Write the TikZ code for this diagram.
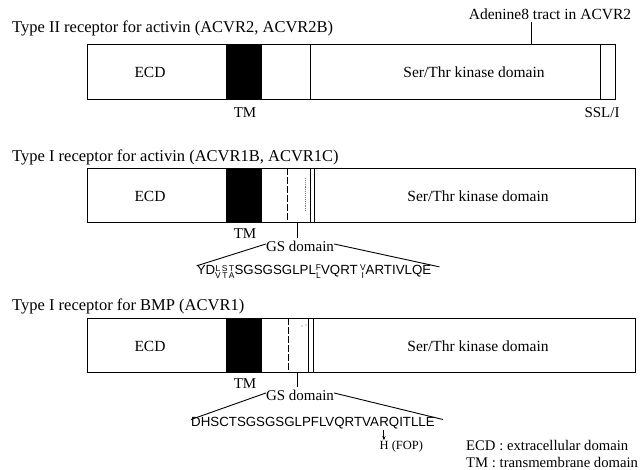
\documentclass[tikz,border=0pt]{standalone}
\usepackage{fontspec}
\usetikzlibrary{arrows.meta}
\setmainfont{Liberation Serif}
\newfontfamily\seqfont{Liberation Sans}
\newcommand\seqstk[2]{{\fontsize{8.5}{8}\selectfont\renewcommand\arraystretch{0.85}\setlength\tabcolsep{0pt}\begin{tabular}[c]{c}#1\\#2\end{tabular}}}
\begin{document}
\begin{tikzpicture}[x=1pt,y=-1pt,
  title/.style={anchor=west,inner sep=0pt,font=\fontsize{16.5}{17}\selectfont},
  boxlab/.style={inner sep=0pt,font=\fontsize{15.5}{16}\selectfont},
  small/.style={inner sep=0pt,font=\fontsize{15}{15}\selectfont},
  legend/.style={inner sep=0pt,anchor=west,font=\fontsize{14.7}{15}\selectfont},
  seq/.style={inner sep=0pt,font=\seqfont\fontsize{13.3}{13}\selectfont},
  frame/.style={draw,line width=1.4pt},
  thin/.style={line width=0.9pt}]
\useasboundingbox (0,0) rectangle (643,470);
\fill[white] (0,0) rectangle (643,470);

% ---------- Type II ----------
\node[title] (t1) at (12,28) {Type II receptor for activin (ACVR2, ACVR2B)};
\node[frame,minimum width=528pt,minimum height=55pt,anchor=north west,inner sep=0pt] (b1) at (87,44) {};
\fill (226,44) rectangle (262,99);
\draw[thin] (310,44) -- (310,99);
\draw[thin] (600,44) -- (600,99);
\node[boxlab] (e1) at (150,72) {ECD};
\node[boxlab] (k1) at (474,72) {Ser/Thr kinase domain};
\node[small] (tm1) at (245,113) {TM};
\node[small] (ssl) at (602,113) {SSL/I};
\node[small,font=\fontsize{15.5}{15}\selectfont] (ade) at (550,14) {Adenine8 tract in ACVR2};
\coordinate (adeb) at (531,44);
\draw[thin] (531,22) -- (adeb);

% ---------- Type I activin ----------
\node[title] (t2) at (12,157) {Type I receptor for activin (ACVR1B, ACVR1C)};
\node[frame,minimum width=548pt,minimum height=54pt,anchor=north west,inner sep=0pt] (b2) at (87,168) {};
\fill (226,168) rectangle (262,222);
\draw[thin,dash pattern=on 7pt off 2pt] (287,168) -- (287,222);
\draw[thin,densely dotted,gray] (305,178) -- (305,212);
\draw[thin] (310,168) -- (310,222);
\draw[thin] (314,168) -- (314,222);
\node[boxlab] (e2) at (150,196) {ECD};
\node[boxlab] (k2) at (478,196) {Ser/Thr kinase domain};
\node[small] (tm2) at (245,234) {TM};
\coordinate (gs2t) at (297,222);
\node[small] (gs2) at (300,246) {GS domain};
\draw[thin] (gs2t) -- (297,238);
\node[seq] (s2) at (314,273) {YD\seqstk{L\,S\,T}{V\,T\,A}SGSGSGLPL\seqstk{F}{L}VQRT\,\seqstk{V}{I}ARTIVLQE};
\draw[thin] ([yshift=2pt]gs2.west) -- ([yshift=-1pt]s2.north west);
\draw[thin] ([yshift=2pt]gs2.east) -- ([xshift=8pt,yshift=-2pt]s2.north east);

% ---------- Type I BMP ----------
\node[title] (t3) at (12,306) {Type I receptor for BMP (ACVR1)};
\node[frame,minimum width=548pt,minimum height=54pt,anchor=north west,inner sep=0pt] (b3) at (87,318) {};
\fill (226,318) rectangle (262,372);
\draw[thin,dash pattern=on 7pt off 2pt] (288,318) -- (288,372);
\fill[gray] (302,326) circle (0.7pt) (306,325) circle (0.7pt);
\draw[thin] (308,318) -- (308,372);
\draw[thin] (313,318) -- (313,372);
\node[boxlab] (e3) at (150,346) {ECD};
\node[boxlab] (k3) at (478,346) {Ser/Thr kinase domain};
\node[small] (tm3) at (245,384) {TM};
\coordinate (gs3t) at (297,372);
\node[small] (gs3) at (300,395) {GS domain};
\draw[thin] (gs3t) -- (297,387);
\node[seq,anchor=base west] (s3a) at (191,426) {DHSCTSGSGSGLPFLVQRTVA};
\node[seq,anchor=base west] (s3b) at (s3a.base east) {RQITLLE};
\draw[thin] ([yshift=2pt]gs3.west) -- ([yshift=-3pt]s3a.north west);
\draw[thin] ([yshift=2pt]gs3.east) -- ([xshift=8pt,yshift=-3pt]s3b.north east);
\coordinate (arT) at ([xshift=4.8pt,yshift=-1pt]s3b.south west);
\node[inner sep=0pt,anchor=west,font=\fontsize{12.5}{12}\selectfont] (fop) at ([xshift=-4.5pt]arT|-0,446) {H (FOP)};
\draw[thin,-{Stealth[length=4pt,width=3.2pt]}] (arT) -- (arT|-fop.north);
\node[legend] (lg1) at (466,446) {ECD : extracellular domain};
\node[legend] (lg2) at (466,463) {TM : transmembrane domain};
\end{tikzpicture}
\end{document}
